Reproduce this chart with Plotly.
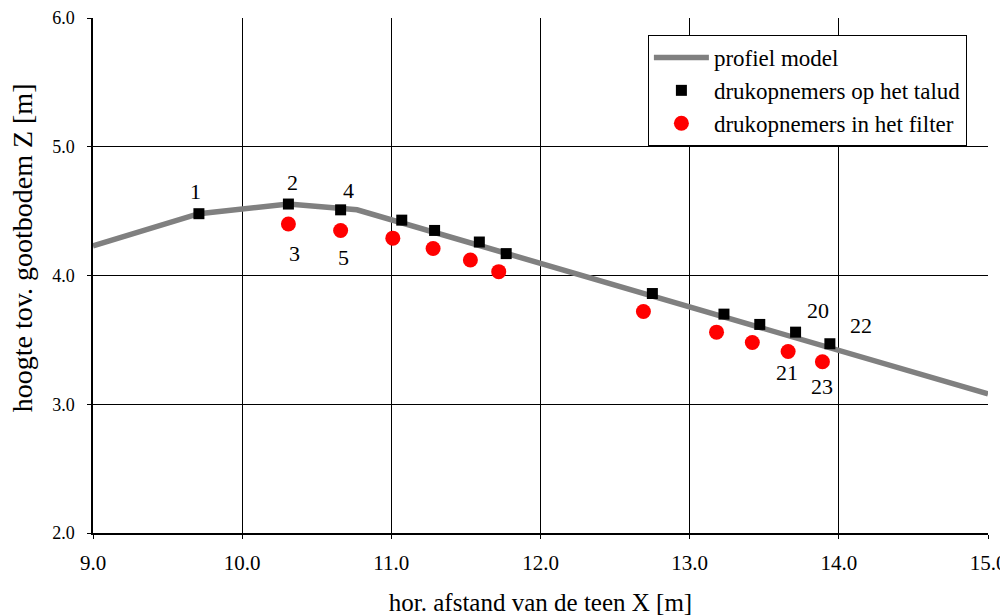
import plotly.graph_objects as go

profiel_x = [9.0, 9.71, 10.31, 10.77, 15.0]
profiel_z = [4.23, 4.48, 4.555, 4.51, 3.08]

talud_x = [9.71, 10.31, 10.66, 11.07, 11.29, 11.59, 11.77, 12.75, 13.23, 13.47, 13.71, 13.94]
talud_z = [4.48, 4.555, 4.51, 4.43, 4.35, 4.26, 4.17, 3.86, 3.70, 3.62, 3.56, 3.47]

filter_x = [10.31, 10.66, 11.01, 11.28, 11.53, 11.72, 12.69, 13.18, 13.42, 13.66, 13.89]
filter_z = [4.40, 4.35, 4.29, 4.21, 4.12, 4.03, 3.72, 3.56, 3.48, 3.41, 3.33]

label_text = ["1", "2", "4", "3", "5", "20", "22", "21", "23"]
label_x = [9.69, 10.34, 10.71, 10.35, 10.68, 13.86, 14.15, 13.65, 13.89]
label_z = [4.65, 4.72, 4.66, 4.17, 4.14, 3.73, 3.61, 3.25, 3.14]

font = "Times New Roman, Liberation Serif, serif"

fig = go.Figure()
fig.add_trace(go.Scatter(x=profiel_x, y=profiel_z, mode="lines",
                         line=dict(color="#808080", width=5.5), name="profiel model"))
fig.add_trace(go.Scatter(x=talud_x, y=talud_z, mode="markers",
                         marker=dict(symbol="square", color="black", size=11),
                         name="drukopnemers op het talud"))
fig.add_trace(go.Scatter(x=filter_x, y=filter_z, mode="markers",
                         marker=dict(symbol="circle", color="#ff0000", size=15),
                         name="drukopnemers in het filter"))

for t, x, y in zip(label_text, label_x, label_z):
    fig.add_annotation(x=x, y=y, text=t, showarrow=False,
                       font=dict(family=font, size=22, color="black"))

# y-axis title as a rotated annotation (it sits a little above the axis centre)
fig.add_annotation(xref="paper", yref="paper", x=-0.0793, y=0.553,
                   xanchor="center", yanchor="middle", textangle=-90,
                   text="hoogte tov. gootbodem Z [m]", showarrow=False,
                   font=dict(family=font, size=28, color="black"))

# page body has an 8px margin, so the figure is 8px smaller and starts at (8, 8)
fig.update_layout(
    width=1000, height=608,
    margin=dict(l=85, r=20, t=10, b=83, autoexpand=False),
    paper_bgcolor="white", plot_bgcolor="white",
    font=dict(family=font, size=18, color="black"),
    showlegend=True,
    legend=dict(x=0.62, y=0.967, xanchor="left", yanchor="top",
                bordercolor="black", borderwidth=1, bgcolor="white",
                font=dict(family=font, size=23, color="black"), tracegroupgap=0,
                itemwidth=55),
)
fig.update_xaxes(range=[9.0, 15.0], dtick=1.0, tickformat=".1f",
                 showgrid=True, gridcolor="black", gridwidth=1,
                 showline=True, linecolor="black", linewidth=1.5,
                 ticks="outside", ticklen=4, tickcolor="black",
                 zeroline=False, automargin=False, ticklabelstandoff=6,
                 ticklabeloverflow="allow",
                 tickfont=dict(family=font, size=21, color="black"),
                 title=dict(text="hor. afstand van de teen X [m]", standoff=28,
                            font=dict(family=font, size=25, color="black")))
fig.update_yaxes(range=[2.0, 6.0], dtick=1.0, tickformat=".1f",
                 ticksuffix="\u00a0\u00a0",
                 showgrid=True, gridcolor="black", gridwidth=1,
                 showline=True, linecolor="black", linewidth=1.5,
                 ticks="outside", ticklen=4, tickcolor="black",
                 zeroline=False, automargin=False,
                 ticklabeloverflow="allow",
                 tickfont=dict(family=font, size=18, color="black"))
fig.write_html("out.html")
